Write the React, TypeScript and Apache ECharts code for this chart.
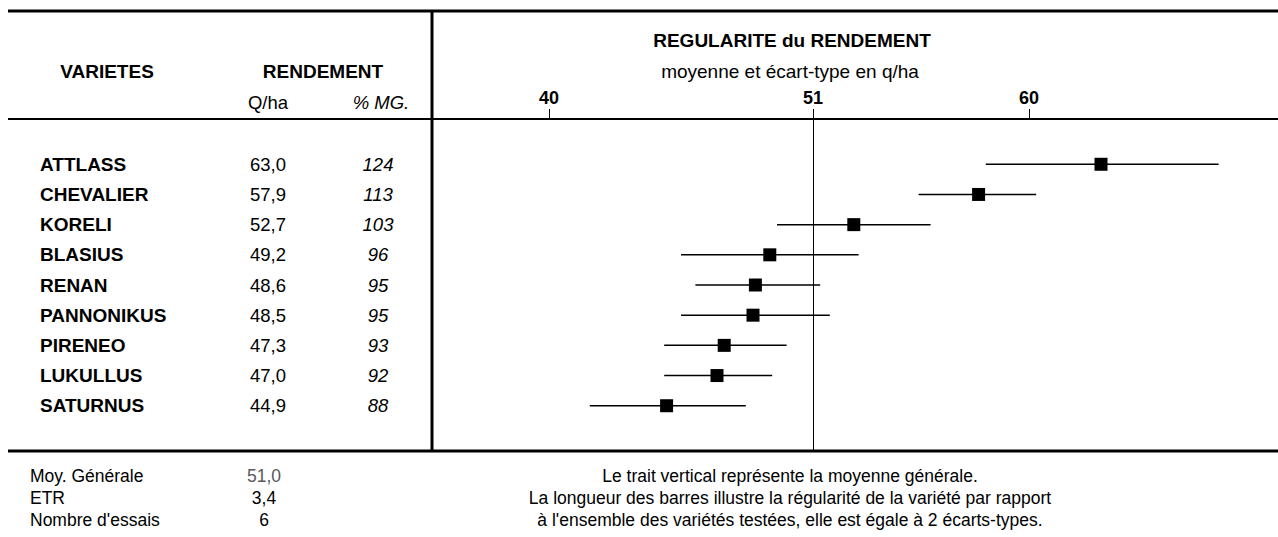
import React, { useEffect, useRef } from "react";
import * as echarts from "echarts";

const VARIETIES = ["ATTLASS", "CHEVALIER", "KORELI", "BLASIUS", "RENAN", "PANNONIKUS", "PIRENEO", "LUKULLUS", "SATURNUS"];
const YIELD_QHA = [63.0, 57.9, 52.7, 49.2, 48.6, 48.5, 47.3, 47.0, 44.9];
const PCT_MG = [124, 113, 103, 96, 95, 95, 93, 92, 88];
const BAR_LOW = [58.2, 55.4, 49.5, 45.5, 46.1, 45.5, 44.8, 44.8, 41.7];
const BAR_HIGH = [67.9, 60.3, 55.9, 52.9, 51.3, 51.7, 49.9, 49.3, 48.2];
const MEAN_GENERALE = 51.0;
const ETR = 3.4;
const NB_ESSAIS = 6;
const X_TICKS = [40, 51, 60];
const NOTES = [
  "Le trait vertical représente la moyenne générale.",
  "La longueur des barres illustre la régularité de la variété par rapport",
  "à l'ensemble des variétés testées, elle est égale à 2 écarts-types.",
];
const SUMMARY_LABELS = ["Moy. Générale", "ETR", "Nombre d'essais"];

const FONT = "'Liberation Sans', Arial, sans-serif";
const fmt = (v: number) => v.toFixed(1).replace(".", ",");

export default function App() {
  const ref = useRef<HTMLDivElement>(null);
  useEffect(() => {
    if (!ref.current) return;
    const chart = echarts.init(ref.current, undefined, { renderer: "svg" });
    const cats = ["pad-top", ...VARIETIES, "pad-bottom"];
    const rowText = (arr: string[]) => (_v: string, i: number) => (i >= 1 && i <= arr.length ? arr[i - 1] : "");
    const summaryValues = [fmt(MEAN_GENERALE), fmt(ETR), String(NB_ESSAIS)];

    const txt = (text: string, x: number, y: number, o: any = {}) => ({
      type: "text",
      x,
      y,
      silent: true,
      style: {
        text,
        fill: o.fill || "#000",
        fontSize: o.size || 19,
        fontWeight: o.bold ? "bold" : "normal",
        fontStyle: o.italic ? "italic" : "normal",
        fontFamily: FONT,
        align: o.align || "center",
        verticalAlign: "middle",
      },
    });
    const ln = (x1: number, y1: number, x2: number, y2: number, w: number) => ({
      type: "line",
      silent: true,
      shape: { x1, y1, x2, y2 },
      style: { stroke: "#000", lineWidth: w },
    });

    const graphics: any[] = [
      ln(8, 11, 1278, 11, 3),
      ln(8, 119, 432, 119, 2),
      ln(432, 11, 432, 451, 3),
      ln(8, 451, 1278, 451, 3),
      txt("VARIETES", 107, 71, { bold: true }),
      txt("RENDEMENT", 323, 71, { bold: true }),
      txt("Q/ha", 268, 102, { size: 18.5 }),
      txt("% MG.", 381, 102, { italic: true, size: 18.5 }),
      txt("REGULARITE du RENDEMENT", 792, 40, { bold: true }),
      txt("moyenne et écart-type en q/ha", 790, 71, {}),
    ];
    SUMMARY_LABELS.forEach((s, i) => {
      const y = 476 + i * 22;
      graphics.push(txt(s, 30, y, { align: "left", size: 17.5 }));
      graphics.push(txt(summaryValues[i], 264, y, { size: 17.5, fill: i === 0 ? "#595959" : "#000" }));
      graphics.push(txt(NOTES[i], 790, y, { size: 17.5 }));
    });

    const yBase = {
      type: "category",
      data: cats,
      inverse: true,
      position: "left",
      axisLine: { show: false },
      axisTick: { show: false },
      splitLine: { show: false },
    };

    chart.setOption({
      animation: false,
      grid: { left: 432, right: 0, top: 119, bottom: 86, containLabel: false, outerBoundsMode: "none" },
      xAxis: {
        type: "value",
        position: "top",
        min: 35.125,
        max: 70.375,
        axisLine: { show: true, lineStyle: { color: "#000", width: 2 } },
        axisTick: { show: true, customValues: X_TICKS, length: 10, lineStyle: { color: "#000", width: 1 } },
        axisLabel: {
          show: true,
          customValues: X_TICKS,
          margin: 12,
          color: "#000",
          fontWeight: "bold",
          fontSize: 18,
          fontFamily: FONT,
        },
        splitLine: { show: false },
      },
      yAxis: [
        {
          ...yBase,
          axisLabel: {
            interval: 0,
            align: "left",
            margin: 392,
            color: "#000",
            fontWeight: "bold",
            fontSize: 19,
            fontFamily: FONT,
            formatter: rowText(VARIETIES),
          },
        },
        {
          ...yBase,
          axisLabel: {
            interval: 0,
            align: "center",
            margin: 164,
            color: "#000",
            fontSize: 18.5,
            fontFamily: FONT,
            padding: [6, 0, 0, 0],
            formatter: rowText(YIELD_QHA.map(fmt)),
          },
        },
        {
          ...yBase,
          axisLabel: {
            interval: 0,
            align: "center",
            margin: 54,
            color: "#000",
            fontSize: 18.5,
            fontStyle: "italic",
            fontFamily: FONT,
            padding: [0, 0, 2, 0],
            formatter: rowText(PCT_MG.map(String)),
          },
        },
      ],
      series: [
        {
          type: "custom",
          name: "écart-type",
          xAxisIndex: 0,
          yAxisIndex: 0,
          encode: { x: [0, 1], y: 2 },
          data: VARIETIES.map((_, i) => [BAR_LOW[i], BAR_HIGH[i], i + 1]),
          renderItem: (_p: any, api: any) => {
            const a = api.coord([api.value(0), api.value(2)]);
            const b = api.coord([api.value(1), api.value(2)]);
            return {
              type: "line",
              shape: { x1: a[0], y1: a[1], x2: b[0], y2: b[1] },
              style: { stroke: "#000", lineWidth: 1.5 },
            };
          },
          z: 2,
        },
        {
          type: "scatter",
          name: "moyenne",
          xAxisIndex: 0,
          yAxisIndex: 0,
          symbol: "rect",
          symbolSize: 13,
          itemStyle: { color: "#000", opacity: 1 },
          data: VARIETIES.map((_, i) => [YIELD_QHA[i], i + 1]),
          z: 3,
          markLine: {
            silent: true,
            symbol: ["none", "none"],
            label: { show: false },
            lineStyle: { color: "#000", width: 1, type: "solid", opacity: 1 },
            data: [{ xAxis: MEAN_GENERALE }],
          },
        },
      ],
      graphic: graphics,
    });
    return () => chart.dispose();
  }, []);
  return <div ref={ref} style={{ position: "fixed", left: 0, top: 0, width: 1278, height: 537, background: "#fff" }} />;
}
